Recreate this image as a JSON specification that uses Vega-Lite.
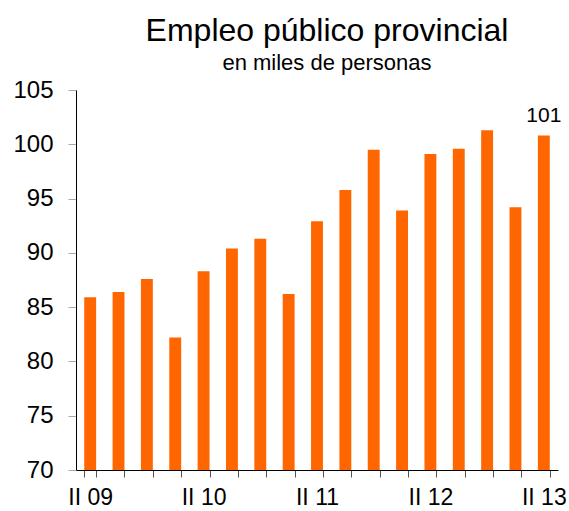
{
  "$schema": "https://vega.github.io/schema/vega-lite/v6.json",
  "width": 482,
  "height": 380,
  "autosize": "none",
  "padding": {"left": 76, "top": 90, "right": 11, "bottom": 41},
  "background": "white",
  "config": {"view": {"stroke": null}, "font": "Liberation Sans"},
  "title": {
    "text": "Empleo público provincial",
    "subtitle": "en miles de personas",
    "fontSize": 32,
    "fontWeight": "normal",
    "color": "black",
    "subtitleFontSize": 22,
    "subtitleColor": "black",
    "subtitlePadding": 5,
    "anchor": "middle",
    "dx": 10,
    "offset": 3
  },
  "data": {
    "values": [
      {"q": "II 09", "v": 85.9},
      {"q": "III 09", "v": 86.4},
      {"q": "IV 09", "v": 87.6},
      {"q": "I 10", "v": 82.2},
      {"q": "II 10", "v": 88.3},
      {"q": "III 10", "v": 90.4},
      {"q": "IV 10", "v": 91.3},
      {"q": "I 11", "v": 86.2},
      {"q": "II 11", "v": 92.9},
      {"q": "III 11", "v": 95.8},
      {"q": "IV 11", "v": 99.5},
      {"q": "I 12", "v": 93.9},
      {"q": "II 12", "v": 99.1},
      {"q": "III 12", "v": 99.6},
      {"q": "IV 12", "v": 101.3},
      {"q": "I 13", "v": 94.2},
      {"q": "II 13", "v": 100.8}
    ]
  },
  "encoding": {
    "x": {
      "field": "q",
      "type": "ordinal",
      "sort": null,
      "title": null,
      "scale": {"paddingInner": 0.58, "paddingOuter": 0.29},
      "axis": {
        "tickBand": "extent",
        "labelAngle": 0,
        "labelFontSize": 23,
        "labelColor": "black",
        "labelPadding": 9,
        "domainColor": "black",
        "tickColor": "#555555",
        "tickSize": 7,
        "labelExpr": "substring(datum.value, 0, 3) == 'II ' ? datum.value : ''"
      }
    },
    "y": {
      "field": "v",
      "type": "quantitative",
      "title": null,
      "scale": {"domain": [70, 105], "nice": false, "zero": false},
      "axis": {
        "values": [70, 75, 80, 85, 90, 95, 100, 105],
        "grid": false,
        "labelFontSize": 24,
        "labelColor": "black",
        "labelPadding": 15,
        "domainColor": "black",
        "tickColor": "#aaaaaa",
        "tickSize": 8
      }
    }
  },
  "layer": [
    {"mark": {"type": "bar", "color": "#FF6600", "clip": true}},
    {
      "transform": [{"filter": "datum.q == 'II 13'"}],
      "mark": {"type": "text", "fontSize": 21, "dy": -14, "baseline": "alphabetic", "color": "black"},
      "encoding": {"text": {"field": "v", "type": "quantitative", "format": ".0f"}}
    }
  ]
}
